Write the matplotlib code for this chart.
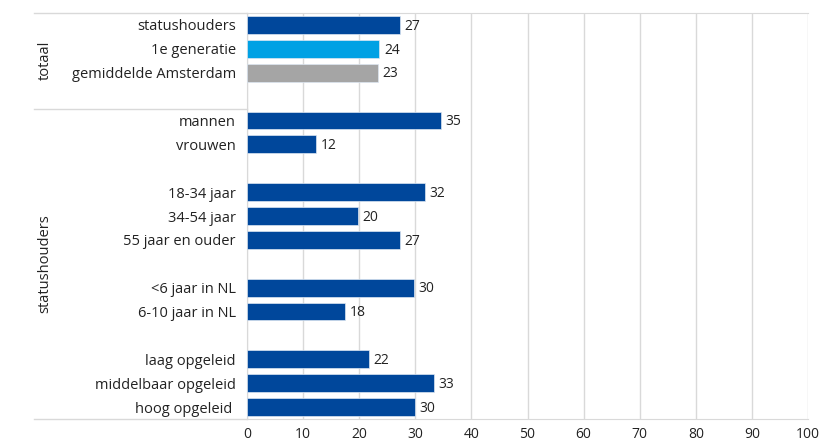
import matplotlib
matplotlib.use("Agg")
import matplotlib.pyplot as plt
import numpy as np

plt.rcParams['font.family'] = ['Open Sans', 'DejaVu Sans']

# ---- data (None = empty spacer row) ----
categories = ['statushouders', '1e generatie', 'gemiddelde Amsterdam', None,
              'mannen', 'vrouwen', None,
              '18-34 jaar', '34-54 jaar', '55 jaar en ouder', None,
              '<6 jaar in NL', '6-10 jaar in NL', None,
              'laag opgeleid', 'middelbaar opgeleid', 'hoog opgeleid ']
values = [27, 24, 23, None,
          35, 12, None,
          32, 20, 27, None,
          30, 18, None,
          22, 33, 30]
shown = [27.3, 23.6, 23.3, None,
         34.6, 12.3, None,
         31.7, 19.8, 27.3, None,
         29.8, 17.5, None,
         21.7, 33.3, 30.0]
groups = ['totaal', 'statushouders']
group_rows = [(0, 3), (4, 16)]

dark = '#00479B'
colors = [dark, '#00A1E4', '#A5A5A5'] + [dark] * 14
fs = 10.5

fig = plt.figure(figsize=(8.23, 4.43), dpi=100)
ax = fig.add_axes([247/823, 1-419/443, (808-247)/823, (419-13)/443])

n = len(categories)
y = np.arange(n)
for i in range(n):
    if values[i] is None:
        continue
    ax.barh(y[i], shown[i], height=0.75, color=colors[i], edgecolor='#DCE6F2',
            linewidth=0.5, zorder=3)
    ax.text(shown[i] + 0.8, y[i] + 0.05, str(values[i]), va='center', ha='left',
            fontsize=10, color='#222222', zorder=4)

ax.set_ylim(n - 0.5, -0.5)
ax.set_xlim(0, 100)
ax.set_xticks(np.arange(0, 101, 10))
ax.set_xticklabels([str(v) for v in range(0, 101, 10)], fontsize=10, color='#222222')
ax.tick_params(axis='x', length=0, pad=5.5)
ax.set_yticks([i for i in range(n) if categories[i] is not None])
ax.set_yticklabels([c for c in categories if c is not None], fontsize=fs, color='#222222')
ax.tick_params(axis='y', length=0, pad=8)
ax.grid(axis='x', color='#D9D9D9', linewidth=1, zorder=0)
for s in ['top', 'bottom', 'left']:
    ax.spines[s].set_color('#D9D9D9')
ax.spines['right'].set_visible(False)

# group separators and labels on the left
x0 = (34 - 247) / (808 - 247)
for yy in [-0.5, 3.5, n - 0.5]:
    ax.plot([x0, 0], [yy, yy], transform=ax.get_yaxis_transform(), color='#D9D9D9',
            linewidth=1, clip_on=False)
for g, (a, b) in zip(groups, group_rows):
    ymid = 1 - (13 + (a + b + 1) / 2 * 406/17) / 443
    fig.text(45/823, ymid, g, rotation=90, va='center', ha='center', fontsize=fs,
             color='#222222')

fig.savefig('out.png', dpi=100)
